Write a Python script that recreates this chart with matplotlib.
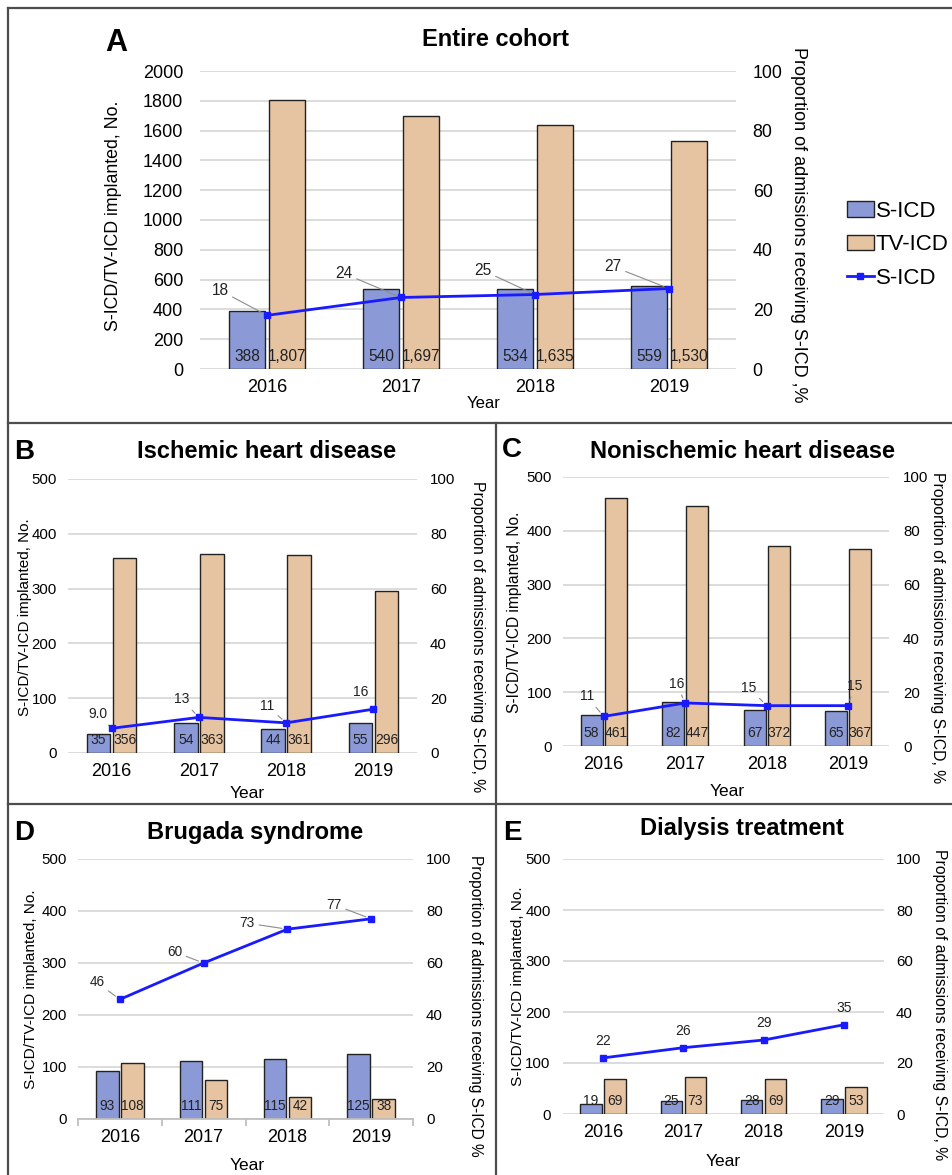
import matplotlib.pyplot as plt
from matplotlib.lines import Line2D
import numpy as np

plt.rcParams['font.family'] = ['Liberation Sans', 'DejaVu Sans']

# data
years = ['2016', '2017', '2018', '2019']

a_sicd = [388, 540, 534, 559]
a_tvicd = [1807, 1697, 1635, 1530]
a_pct = [18, 24, 25, 27]
a_pct_lbl = ['18', '24', '25', '27']

b_sicd = [35, 54, 44, 55]
b_tvicd = [356, 363, 361, 296]
b_pct = [9.0, 13, 11, 16]
b_pct_lbl = ['9.0', '13', '11', '16']

c_sicd = [58, 82, 67, 65]
c_tvicd = [461, 447, 372, 367]
c_pct = [11, 16, 15, 15]
c_pct_lbl = ['11', '16', '15', '15']

d_sicd = [93, 111, 115, 125]
d_tvicd = [108, 75, 42, 38]
d_pct = [46, 60, 73, 77]
d_pct_lbl = ['46', '60', '73', '77']

e_sicd = [19, 25, 28, 29]
e_tvicd = [69, 73, 69, 53]
e_pct = [22, 26, 29, 35]
e_pct_lbl = ['22', '26', '29', '35']

left_label = 'S-ICD/TV-ICD implanted, No.'

# colours
C_S = '#8b9ad6'
C_TV = '#e6c3a1'
C_LINE = '#1a1aff'
C_GRID = '#d9d9d9'

W, H = 952, 1175
fig = plt.figure(figsize=(W / 100, H / 100), dpi=100)


def box(l, t, r, b):
    return [l / W, 1 - b / H, (r - l) / W, (b - t) / H]


def pt(px):
    return px * 0.72


def ftext(x, y, s, **kw):
    fig.text(x / W, 1 - y / H, s, ha='center', va='center', **kw)


def panel(rect, sicd, tvicd, pct, pct_lbl, ymax, ystep, offs, leaders,
          lab_fs=10, tick_fs=10.8, lpad=8, rpad=9.4, comma=False, xaxis_line=False):
    ax = fig.add_axes(box(*rect))
    x = np.arange(len(years))
    w = 0.27
    ax.bar(x - 0.15, sicd, w, color=C_S, edgecolor='#222222', linewidth=1, zorder=2)
    ax.bar(x + 0.15, tvicd, w, color=C_TV, edgecolor='#222222', linewidth=1, zorder=2)
    for i in range(len(years)):
        for xx, v in ((x[i] - 0.15, sicd[i]), (x[i] + 0.15, tvicd[i])):
            s = f'{v:,}' if comma else str(v)
            ax.annotate(s, (xx, 0), xytext=(0, pt(13)), textcoords='offset points',
                        ha='center', va='center', fontsize=lab_fs, color='#222222', zorder=3)
    ax.set_xlim(-0.5, 3.5)
    ax.set_ylim(0, ymax)
    ax.set_yticks(np.arange(0, ymax + 1, ystep))
    ax.set_xticks(x)
    ax.set_xticklabels(years, fontsize=13)
    ax.tick_params(axis='y', length=0, pad=lpad, labelsize=tick_fs)
    ax.tick_params(axis='x', length=0, pad=7)
    ax.yaxis.grid(True, color=C_GRID, linewidth=1.3, zorder=0)
    ax.set_axisbelow(True)
    for sp in ax.spines.values():
        sp.set_visible(False)
    if xaxis_line:
        ax.spines['bottom'].set_visible(True)
        ax.spines['bottom'].set_color('#bfbfbf')
        ax.spines['bottom'].set_linewidth(1.3)
        ax.set_xticks(np.arange(-0.5, 4, 1), minor=True)
        ax.tick_params(axis='x', which='minor', length=5, color='#bfbfbf', width=1.3)

    ax2 = ax.twinx()
    ax2.plot(x, pct, color=C_LINE, linewidth=2, marker='s', markersize=5, zorder=4)
    ax2.set_ylim(0, 100)
    ax2.set_yticks(np.arange(0, 101, 20))
    ax2.tick_params(axis='y', length=0, pad=rpad, labelsize=tick_fs)
    for sp in ax2.spines.values():
        sp.set_visible(False)
    for i in range(len(years)):
        dx, dy = offs[i]
        kw = {}
        if leaders[i]:
            kw['arrowprops'] = dict(arrowstyle='-', color='#8c8c8c', lw=0.8,
                                    shrinkA=1, shrinkB=4)
        ax2.annotate(pct_lbl[i], (x[i], pct[i]), xytext=(pt(dx), pt(dy)),
                     textcoords='offset points', ha='center', va='center',
                     fontsize=lab_fs, color='#222222', **kw)
    return ax, ax2


# panel A
axA, axA2 = panel((200, 71, 736, 369), a_sicd, a_tvicd, a_pct, a_pct_lbl, 2000, 200,
                  [(-47, 25), (-57, 24), (-52, 24), (-56, 22)], [True] * 4,
                  lab_fs=11.2, tick_fs=12.8, lpad=12, rpad=12, comma=True)
axA.tick_params(axis='y', labelsize=13)
ftext(116, 43, 'A', fontsize=22, fontweight='bold')
ftext(495, 40, 'Entire cohort', fontsize=17, fontweight='bold')
ftext(113, 216, left_label, fontsize=12.8, rotation=90)
ftext(798, 225, 'Proportion of admissions receiving S-ICD ,%', fontsize=13, rotation=270)
ftext(484, 403, 'Year', fontsize=12)

handles = [plt.Rectangle((0, 0), 1, 1, facecolor=C_S, edgecolor='#222222'),
           plt.Rectangle((0, 0), 1, 1, facecolor=C_TV, edgecolor='#222222'),
           Line2D([], [], color=C_LINE, linewidth=2, marker='s', markersize=4)]
fig.legend(handles, ['S-ICD', 'TV-ICD', 'S-ICD'], loc='upper left',
           bbox_to_anchor=(847 / W, 1 - 201 / H), frameon=False, fontsize=16,
           handlelength=1.2, handletextpad=0.1, labelspacing=0.56, borderpad=0,
           borderaxespad=0)

# panel B
panel((68, 479, 417, 753), b_sicd, b_tvicd, b_pct, b_pct_lbl, 500, 100,
      [(-14, 14), (-17, 18), (-19, 17), (-13, 17)], [True, True, True, False])
ftext(24, 452, 'B', fontsize=20, fontweight='bold')
ftext(267, 452, 'Ischemic heart disease', fontsize=17, fontweight='bold')
ftext(25, 617, left_label, fontsize=11, rotation=90)
ftext(477, 637, 'Proportion of admissions receiving S-ICD, %', fontsize=11.3, rotation=270)
ftext(247, 793, 'Year', fontsize=12.5)

# panel C
panel((563, 477, 889, 746), c_sicd, c_tvicd, c_pct, c_pct_lbl, 500, 100,
      [(-17, 20), (-9, 19), (-18, 18), (6, 20)], [True] * 4, rpad=10)
ftext(512, 450, 'C', fontsize=20, fontweight='bold')
ftext(743, 451, 'Nonischemic heart disease', fontsize=17, fontweight='bold')
ftext(515, 612, left_label, fontsize=11.2, rotation=90)
ftext(938, 628, 'Proportion of admissions receiving S-ICD, %', fontsize=11.3, rotation=270)
ftext(727, 792, 'Year', fontsize=12.5)

# panel D
panel((78, 859, 413, 1119), d_sicd, d_tvicd, d_pct, d_pct_lbl, 500, 100,
      [(-23, 17), (-29, 11), (-40, 6), (-37, 14)], [True] * 4,
      lab_fs=9.8, xaxis_line=True)
ftext(24, 833, 'D', fontsize=20, fontweight='bold')
ftext(255, 832, 'Brugada syndrome', fontsize=17, fontweight='bold')
ftext(31, 989, left_label, fontsize=11.1, rotation=90)
ftext(475, 1006, 'Proportion of admissions receiving S-ICD %', fontsize=11.2, rotation=270)
ftext(247, 1166, 'Year', fontsize=12.5)

# panel E
panel((563, 859, 884, 1114), e_sicd, e_tvicd, e_pct, e_pct_lbl, 500, 100,
      [(0, 17)] * 4, [False] * 4, lpad=9, rpad=8.6)
ftext(512, 833, 'E', fontsize=20, fontweight='bold')
ftext(742, 828, 'Dialysis treatment', fontsize=17, fontweight='bold')
ftext(518, 986, left_label, fontsize=11.1, rotation=90)
ftext(940, 1005, 'Proportion of admissions receiving S-ICD, %', fontsize=11.3, rotation=270)
ftext(723, 1161, 'Year', fontsize=12.5)

# panel frames
frame = [((8, 8), (952, 8)), ((8, 8), (8, 1175)), ((8, 423), (952, 423)),
         ((8, 804), (952, 804)), ((496, 423), (496, 1175))]
for (x0, y0), (x1, y1) in frame:
    fig.add_artist(Line2D([x0 / W, x1 / W], [1 - y0 / H, 1 - y1 / H],
                          transform=fig.transFigure, color='#4d4d4d', linewidth=1.6))

fig.savefig('out.png', dpi=100)
